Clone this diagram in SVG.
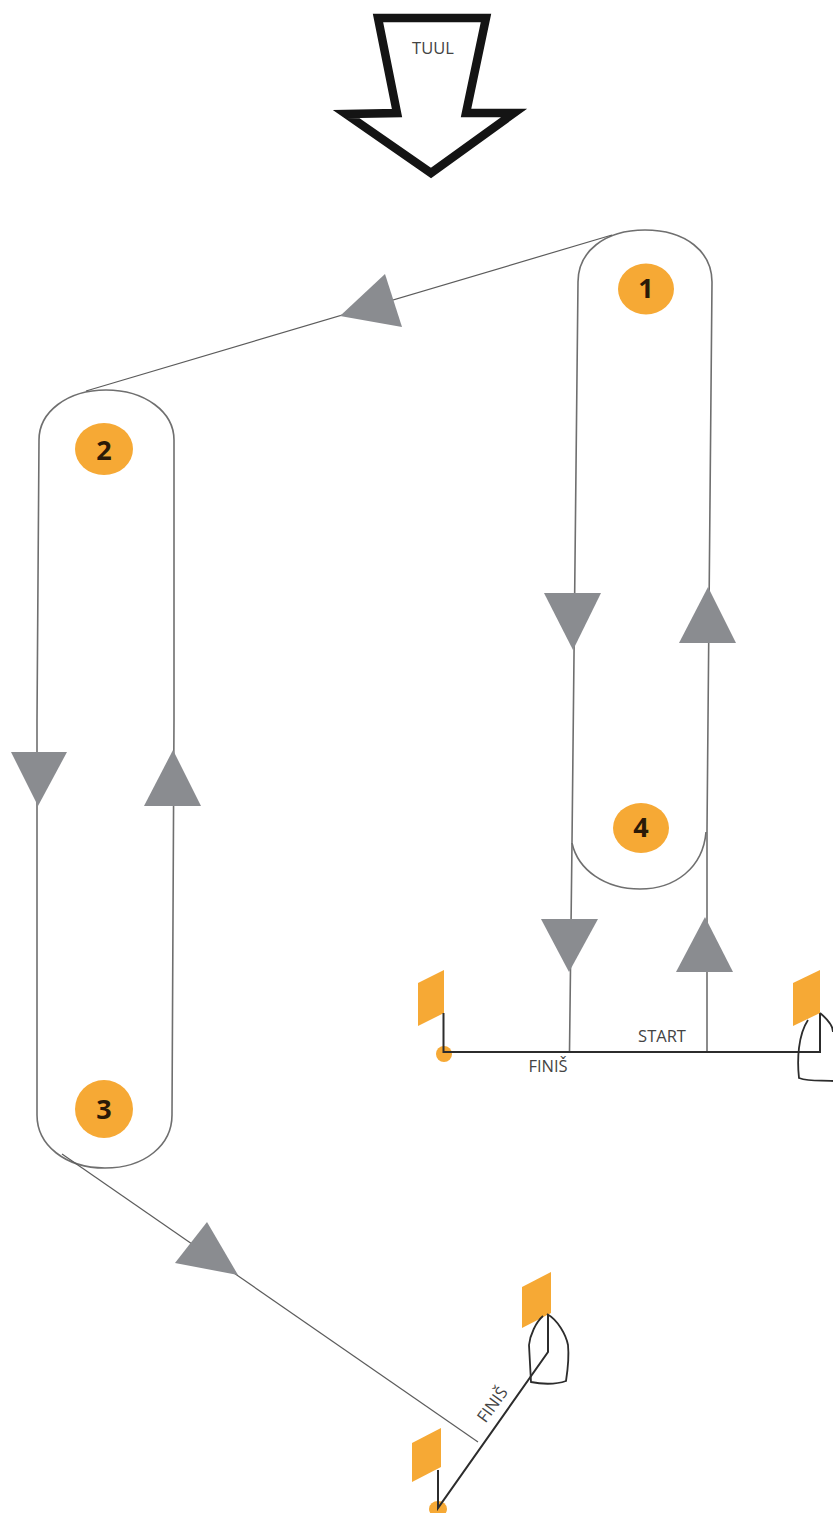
<svg xmlns="http://www.w3.org/2000/svg" width="833" height="1513" viewBox="0 0 833 1513">
<style>
.t{fill:none;stroke:#6f6f6f;stroke-width:1.6}
.d{fill:none;stroke:#5c5c5c;stroke-width:1.2}
.a{fill:#8a8c90;stroke:none}
.f{fill:#f6a935;stroke:none}
.k{fill:none;stroke:#2c2c2c;stroke-width:2}
.b{fill:none;stroke:#2c2c2c;stroke-width:1.8}
.n{font:bold 27px "Open Sans","Liberation Sans",sans-serif;fill:#2a1a08;text-anchor:middle}
.l{font:16.500px "Open Sans","Liberation Sans",sans-serif;fill:#444;text-anchor:middle}
</style>
<rect width="833" height="1513" fill="#fff"/>
<g id="wind">
<path d="M378 18H486L466 113H514L431 173L346 114L397 113Z" fill="#fff" stroke="#141414" stroke-width="8.500"/>
<text class="l" x="433" y="54">TUUL</text>
</g>
<g id="connectors">
<path class="t" d="M578 282C578 252 604 230 645 230C686 230 712 252 712 282L707 830"/>
<path class="t" d="M578 282L572 843C578 870 605 889 640 889C675 889 703 868 706 832"/>
<path class="t" d="M39 440C39 412 67 390 106 390C145 390 174 412 174 440V720L172 1115C172 1145 145 1168 105 1168C65 1168 37 1145 37 1115V720L39 440"/>
<path class="d" d="M612 235L86 391"/>
<path class="d" d="M62 1154L478 1442"/>
<path class="t" d="M572 843L569.500 1052M707 830V1052"/>
<polygon class="a" points="385,274 402,327 340,316"/>
<polygon class="a" points="544,593 601,593 573,650"/>
<polygon class="a" points="708,587 736,643 679,643"/>
<polygon class="a" points="541,919 598,919 569,972"/>
<polygon class="a" points="705,917 733,972 676,972"/>
<polygon class="a" points="11,752 67,752 38,806"/>
<polygon class="a" points="173,750 201,806 144,806"/>
<polygon class="a" points="207,1222 238,1275 175,1263"/>
</g>
<g id="mark-1"><ellipse class="f" cx="646" cy="289" rx="28" ry="25.500"/><text class="n" x="646" y="298">1</text></g>
<g id="mark-2"><ellipse class="f" cx="104" cy="449" rx="29" ry="26"/><text class="n" x="104" y="460">2</text></g>
<g id="mark-3"><circle class="f" cx="104" cy="1109" r="29"/><text class="n" x="104" y="1119">3</text></g>
<g id="mark-4"><ellipse class="f" cx="641" cy="828" rx="28" ry="25"/><text class="n" x="641" y="837">4</text></g>
<g id="start-line">
<path class="f" d="M418 983L444 970V1013L418 1026Z"/>
<circle class="f" cx="444" cy="1054" r="8"/>
<path class="k" d="M443.500 1013V1052H820V1013"/>
<path class="f" d="M793 983L820 970V1013L793 1026Z"/>
<path class="b" d="M808 1020C798 1035 797 1060 799 1078C810 1082 822 1080 833 1081M820 1013C826 1018 833 1026 833 1032"/>
<text class="l" x="662" y="1042">START</text>
<text class="l" x="548" y="1072">FINIŠ</text>
</g>
<g id="finish-line">
<path class="f" d="M412 1443L441 1428V1467L412 1482Z"/>
<path class="f" d="M522 1287L551 1272V1313L522 1328Z"/>
<ellipse class="f" cx="438" cy="1509" rx="9" ry="8"/>
<path class="k" d="M438 1470V1508L548 1352V1315"/>
<path class="b" d="M547 1314C558 1320 566 1335 568 1345C569 1355 568 1368 566 1381C555 1385 540 1384 531 1382L529 1345C530 1335 536 1322 543 1316"/>
<text class="l" transform="translate(497 1408) rotate(-54)">FINIŠ</text>
</g>
</svg>
